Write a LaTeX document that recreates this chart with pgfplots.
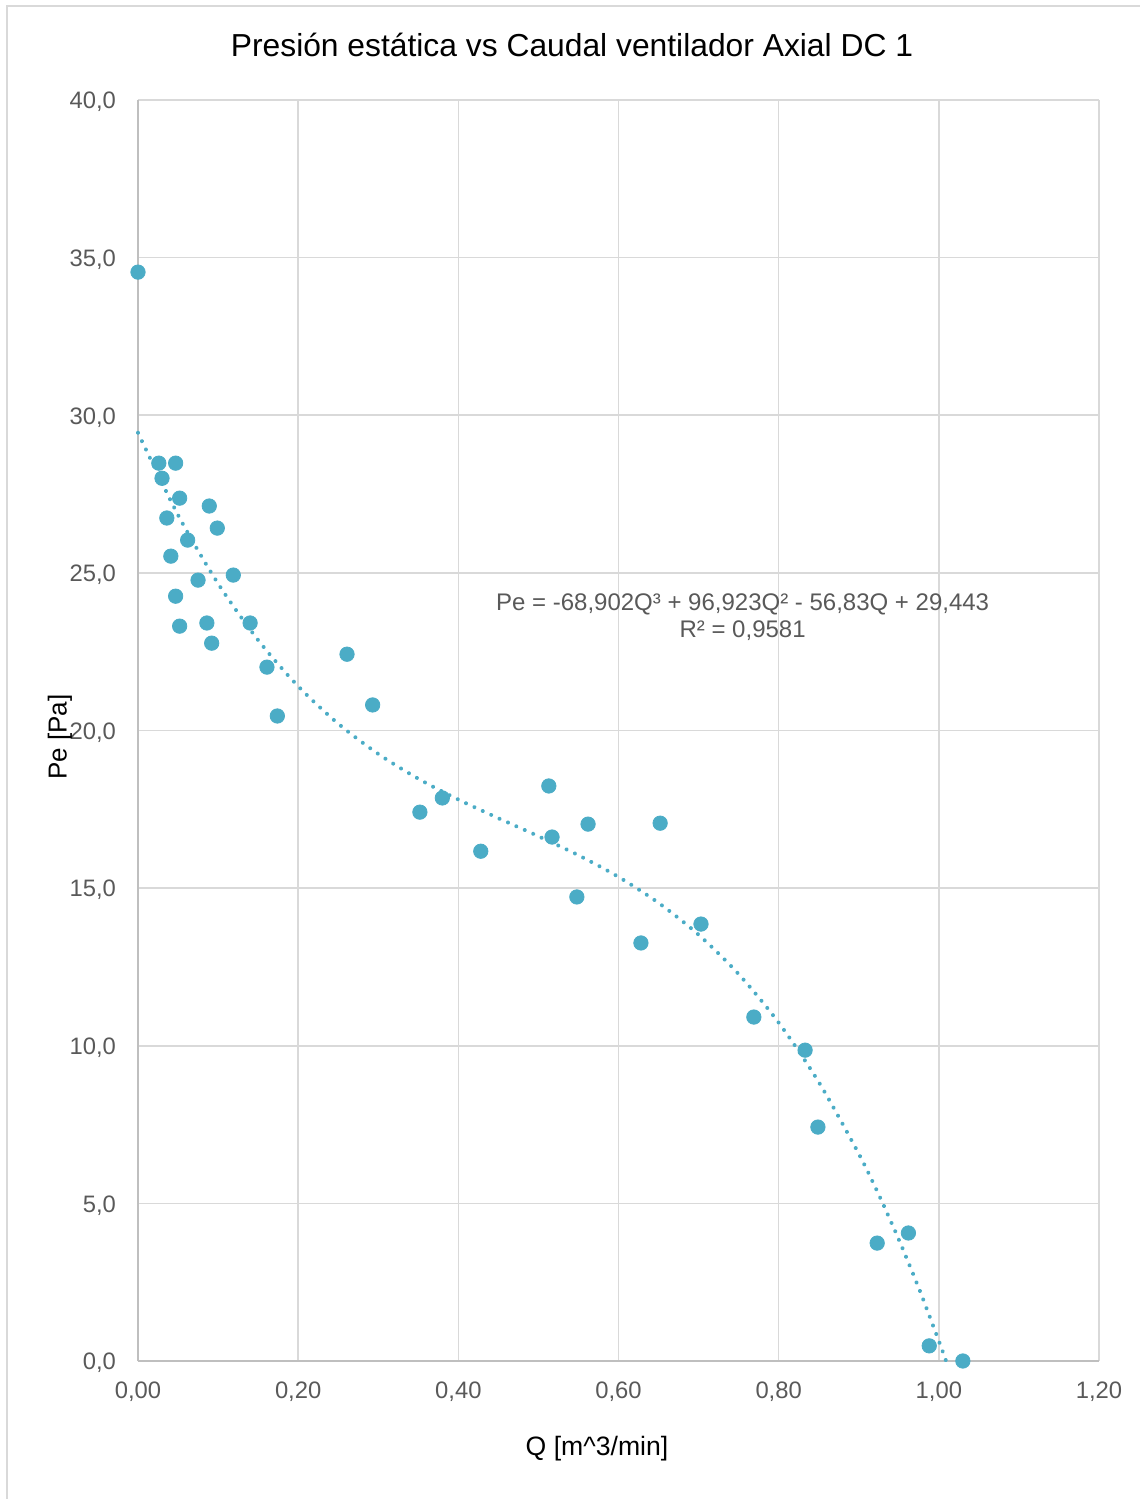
\documentclass[border=0pt]{standalone}
\usepackage{pgfplots}
\pgfplotsset{compat=1.18}
\usepackage{fontspec}
\setmainfont{Liberation Sans}
\definecolor{ser}{HTML}{4BACC6}
\definecolor{gridc}{HTML}{D9D9D9}
\definecolor{axc}{HTML}{BFBFBF}
\definecolor{txt}{HTML}{595959}
\begin{document}
\begin{tikzpicture}
\path[use as bounding box] (-69pt,-69pt) rectangle (501pt,680.5pt);
\draw[gridc, line width=0.8pt] (-65.5pt,-69pt) -- (-65.5pt,677.5pt) -- (501pt,677.5pt);
\begin{axis}[
  at={(0,0)}, anchor=south west,
  scale only axis, width=480.5pt, height=630.5pt,
  xmin=0, xmax=1.2, ymin=0, ymax=40,
  xtick distance=0.2, ytick distance=5,
  grid=major, major grid style={gridc, line width=0.8pt},
  axis line style={axc, line width=0.9pt},
  axis x line*=bottom, axis y line*=left,
  major tick length=0pt,
  tick label style={font=\fontsize{11.9}{13}\selectfont, text=txt},
  /pgf/number format/assume math mode=true,
  xticklabel={\pgfmathprintnumber[fixed,fixed zerofill,precision=2,use comma]{\tick}},
  yticklabel={\pgfmathprintnumber[fixed,fixed zerofill,precision=1,use comma]{\tick}},
  xticklabel style={yshift=-7pt},
  yticklabel style={xshift=-7.5pt, yshift=-1pt},
  clip=false,
]
\addplot[only marks, mark=*, mark size=3.6pt, mark options={fill=ser, draw=ser}] coordinates {
(0.000,34.54) (0.026,28.48) (0.047,28.48) (0.030,28.00) (0.052,27.37)
(0.089,27.12) (0.036,26.74) (0.099,26.42) (0.062,26.04) (0.041,25.53)
(0.119,24.93) (0.075,24.77) (0.047,24.26) (0.086,23.41) (0.140,23.41)
(0.052,23.31) (0.092,22.77) (0.161,22.01) (0.174,20.46) (0.261,22.42)
(0.293,20.81) (0.352,17.41) (0.380,17.86) (0.428,16.17) (0.513,18.24)
(0.517,16.62) (0.562,17.03) (0.548,14.72) (0.652,17.06) (0.628,13.26)
(0.703,13.86) (0.769,10.91) (0.833,9.86) (0.849,7.42) (0.923,3.74)
(0.962,4.06) (0.988,0.48) (1.030,0.00)
};
\addplot[ser, line width=2pt, line cap=round, dash pattern=on 0.01pt off 4.6pt, smooth, tension=0.5] coordinates {
(0,29.443) (0.05,26.835) (0.1,24.660) (0.15,22.867) (0.2,21.403) (0.25,20.217)
(0.3,19.257) (0.35,18.471) (0.4,17.809) (0.45,17.218) (0.5,16.646) (0.55,16.042)
(0.6,15.355) (0.65,14.531) (0.7,13.521) (0.75,12.272) (0.8,10.732) (0.85,8.850)
(0.9,6.574) (0.925,5.273) (0.95,3.852) (0.975,2.309) (1.0,0.634) (1.009,0)
};
\node[text=txt, align=center, font=\fontsize{12}{13.6}\selectfont] at (axis cs:0.755,23.6)
  {Pe = -68,902Q³ + 96,923Q² - 56,83Q + 29,443\\R² = 0,9581};
\end{axis}
\node[font=\fontsize{15.9}{18}\selectfont] at (217pt,658pt) {Presión estática vs Caudal ventilador Axial DC 1};
\node[font=\fontsize{13}{15}\selectfont, rotate=90] at (-39pt,312pt) {Pe [Pa]};
\node[font=\fontsize{13.3}{15}\selectfont] at (229.5pt,-44pt) {Q [m\textasciicircum 3/min]};
\end{tikzpicture}
\end{document}
